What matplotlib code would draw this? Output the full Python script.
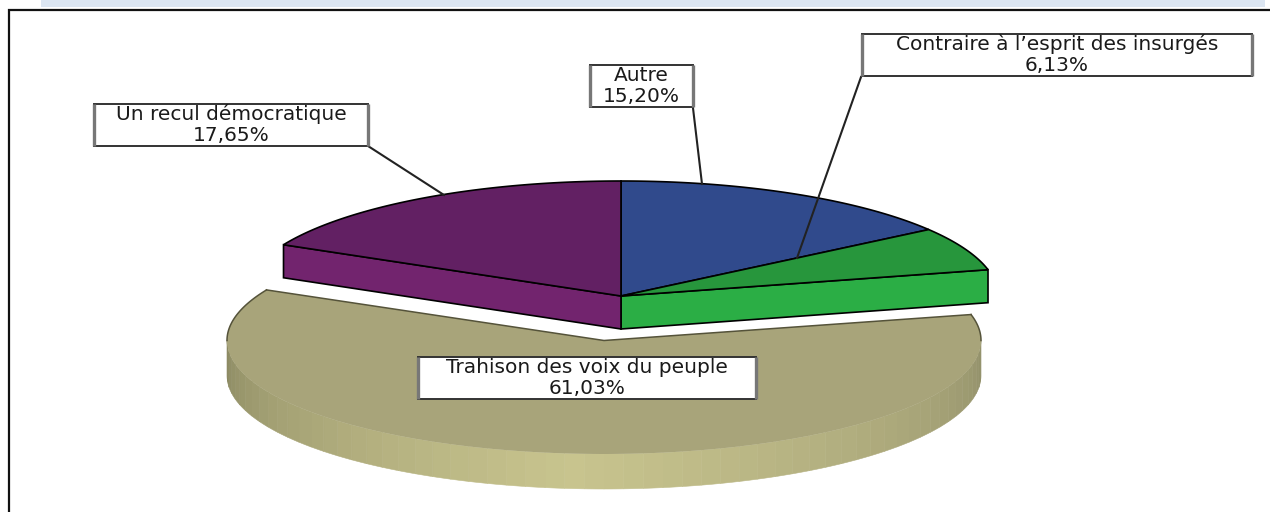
import numpy as np
import matplotlib
matplotlib.use("Agg")
import matplotlib.pyplot as plt
from matplotlib.patches import Polygon, Rectangle
from matplotlib.collections import PolyCollection
from matplotlib.colors import to_rgb

categories = ["Autre", "Contraire à l’esprit des insurgés", "Trahison des voix du peuple", "Un recul démocratique"]
values = [15.20, 6.13, 61.03, 17.65]

top_colors = ["#304a8c", "#27963c", "#a8a47a", "#622063"]
side_colors = ["#304a8c", "#2bae45", "#c8c48e", "#72246e"]
RX, RY, DEPTH = 377, 115, 33
C0 = (621, 296)
C_EXPL = (604, 340.5)
EXPL_RY = 113.5
EXPL_DEPTH = 35
EXPLODED = 2

fig = plt.figure(figsize=(12.7, 5.12), dpi=100, facecolor="white")
ax = fig.add_axes([0, 0, 1, 1])
ax.set_xlim(0, 1270)
ax.set_ylim(512, 0)
ax.axis("off")

# page furniture
ax.add_patch(Rectangle((41, -2), 1224, 9, fc="#dce6f2", ec="none"))
ax.plot([8.5, 8.5, 1270], [520, 10, 10], color="#111111", lw=1.6, solid_joinstyle="miter")

fracs = np.array(values) / sum(values)
edges = np.concatenate([[0], np.cumsum(fracs)]) * 2 * np.pi


def pt(c, a, rx=RX, ry=RY):
    return np.column_stack([c[0] + rx * np.sin(a), c[1] - ry * np.cos(a)])


def wedge(c, a0, a1, ry=RY):
    arc = pt(c, np.linspace(a0, a1, 240), ry=ry)
    return np.vstack([[c], arc])


# exploded slice: shaded rim then top
a0, a1 = edges[EXPLODED], edges[EXPLODED + 1]
dark_l, dark_r, light = np.array(to_rgb("#888660")), np.array(to_rgb("#8f8d68")), np.array(to_rgb(side_colors[EXPLODED]))
bands = np.linspace(np.pi / 2, 3 * np.pi / 2, 61)
quads, cols = [], []
for b0, b1 in zip(bands[:-1], bands[1:]):
    arc = pt(C_EXPL, np.linspace(b0, b1, 6), ry=EXPL_RY)
    quads.append(np.vstack([arc, arc[::-1] + [0, EXPL_DEPTH]]))
    m = (b0 + b1) / 2
    t = np.clip(1 - abs(m - np.radians(185)) / np.radians(85), 0, 1) ** 0.8 if m > np.radians(185) else np.clip(1 - (np.radians(185) - m) / np.radians(95), 0, 1) ** 0.8
    base = dark_l if m > np.radians(185) else dark_r
    cols.append(base + (light - base) * t)
ax.add_collection(PolyCollection(quads, facecolors=cols, edgecolors=cols, linewidths=0.4, zorder=2))
ax.add_patch(Polygon(wedge(C_EXPL, a0, a1, ry=EXPL_RY), closed=True, fc=top_colors[EXPLODED], ec="none", zorder=3))
# dark outline on the cut edges and upper arcs
left_tip = pt(C_EXPL, np.array([a1]), ry=EXPL_RY)[0]
right_tip = pt(C_EXPL, np.array([a0]), ry=EXPL_RY)[0]
ax.plot([left_tip[0], C_EXPL[0], right_tip[0]], [left_tip[1], C_EXPL[1], right_tip[1]], color="#55533a", lw=1.1, zorder=4)
for s, e in [(a1, 3 * np.pi / 2), (a0, np.pi / 2)]:
    arc = pt(C_EXPL, np.linspace(s, e, 40), ry=EXPL_RY)
    ax.plot(arc[:, 0], arc[:, 1], color="#55533a", lw=1.1, zorder=4)

# cut faces of the remaining pie
for i in [1, 3]:
    a = edges[i + 1] if i == 1 else edges[i]
    corner = pt(C0, np.array([a]))[0]
    face = [C0, corner, corner + [0, DEPTH], [C0[0], C0[1] + DEPTH]]
    ax.add_patch(Polygon(face, closed=True, fc=side_colors[i], ec="black", lw=1.2, joinstyle="miter", zorder=5))

# tops of the remaining slices
for i in [0, 1, 3]:
    ax.add_patch(Polygon(wedge(C0, edges[i], edges[i + 1]), closed=True, fc=top_colors[i], ec="black", lw=1.2, joinstyle="miter", zorder=6))

# labels and leaders
label_boxes = [(590, 65, 693, 107), (862, 34, 1252, 76), (418, 357, 756, 399), (94, 104, 368, 146)]
leaders = [[(693, 108), (702, 184)], [(861, 77), (797, 258)], None, [(368, 146), (444, 195)]]
for name, v, box, lead in zip(categories, values, label_boxes, leaders):
    x0, y0, x1, y1 = box
    if lead:
        ax.plot(*zip(*lead), color="#222222", lw=1.5, zorder=7)
    ax.add_patch(Rectangle((x0, y0), x1 - x0, y1 - y0, fc="white", ec="#333333", lw=1.4, zorder=8))
    for xs in (x0, x1):
        ax.plot([xs, xs], [y0, y1], color="#777777", lw=2.4, solid_capstyle="butt", zorder=9)
    xc = (x0 + x1) / 2
    ax.text(xc, y0 + 16.4, name, ha="center", va="baseline", fontsize=14.5, family="DejaVu Sans", color="#1a1a1a", zorder=10)
    ax.text(xc, y0 + 36.6, f"{v:.2f}%".replace(".", ","), ha="center", va="baseline", fontsize=14.5, family="DejaVu Sans", color="#1a1a1a", zorder=10)

fig.savefig("out.png", dpi=100, facecolor="white")
